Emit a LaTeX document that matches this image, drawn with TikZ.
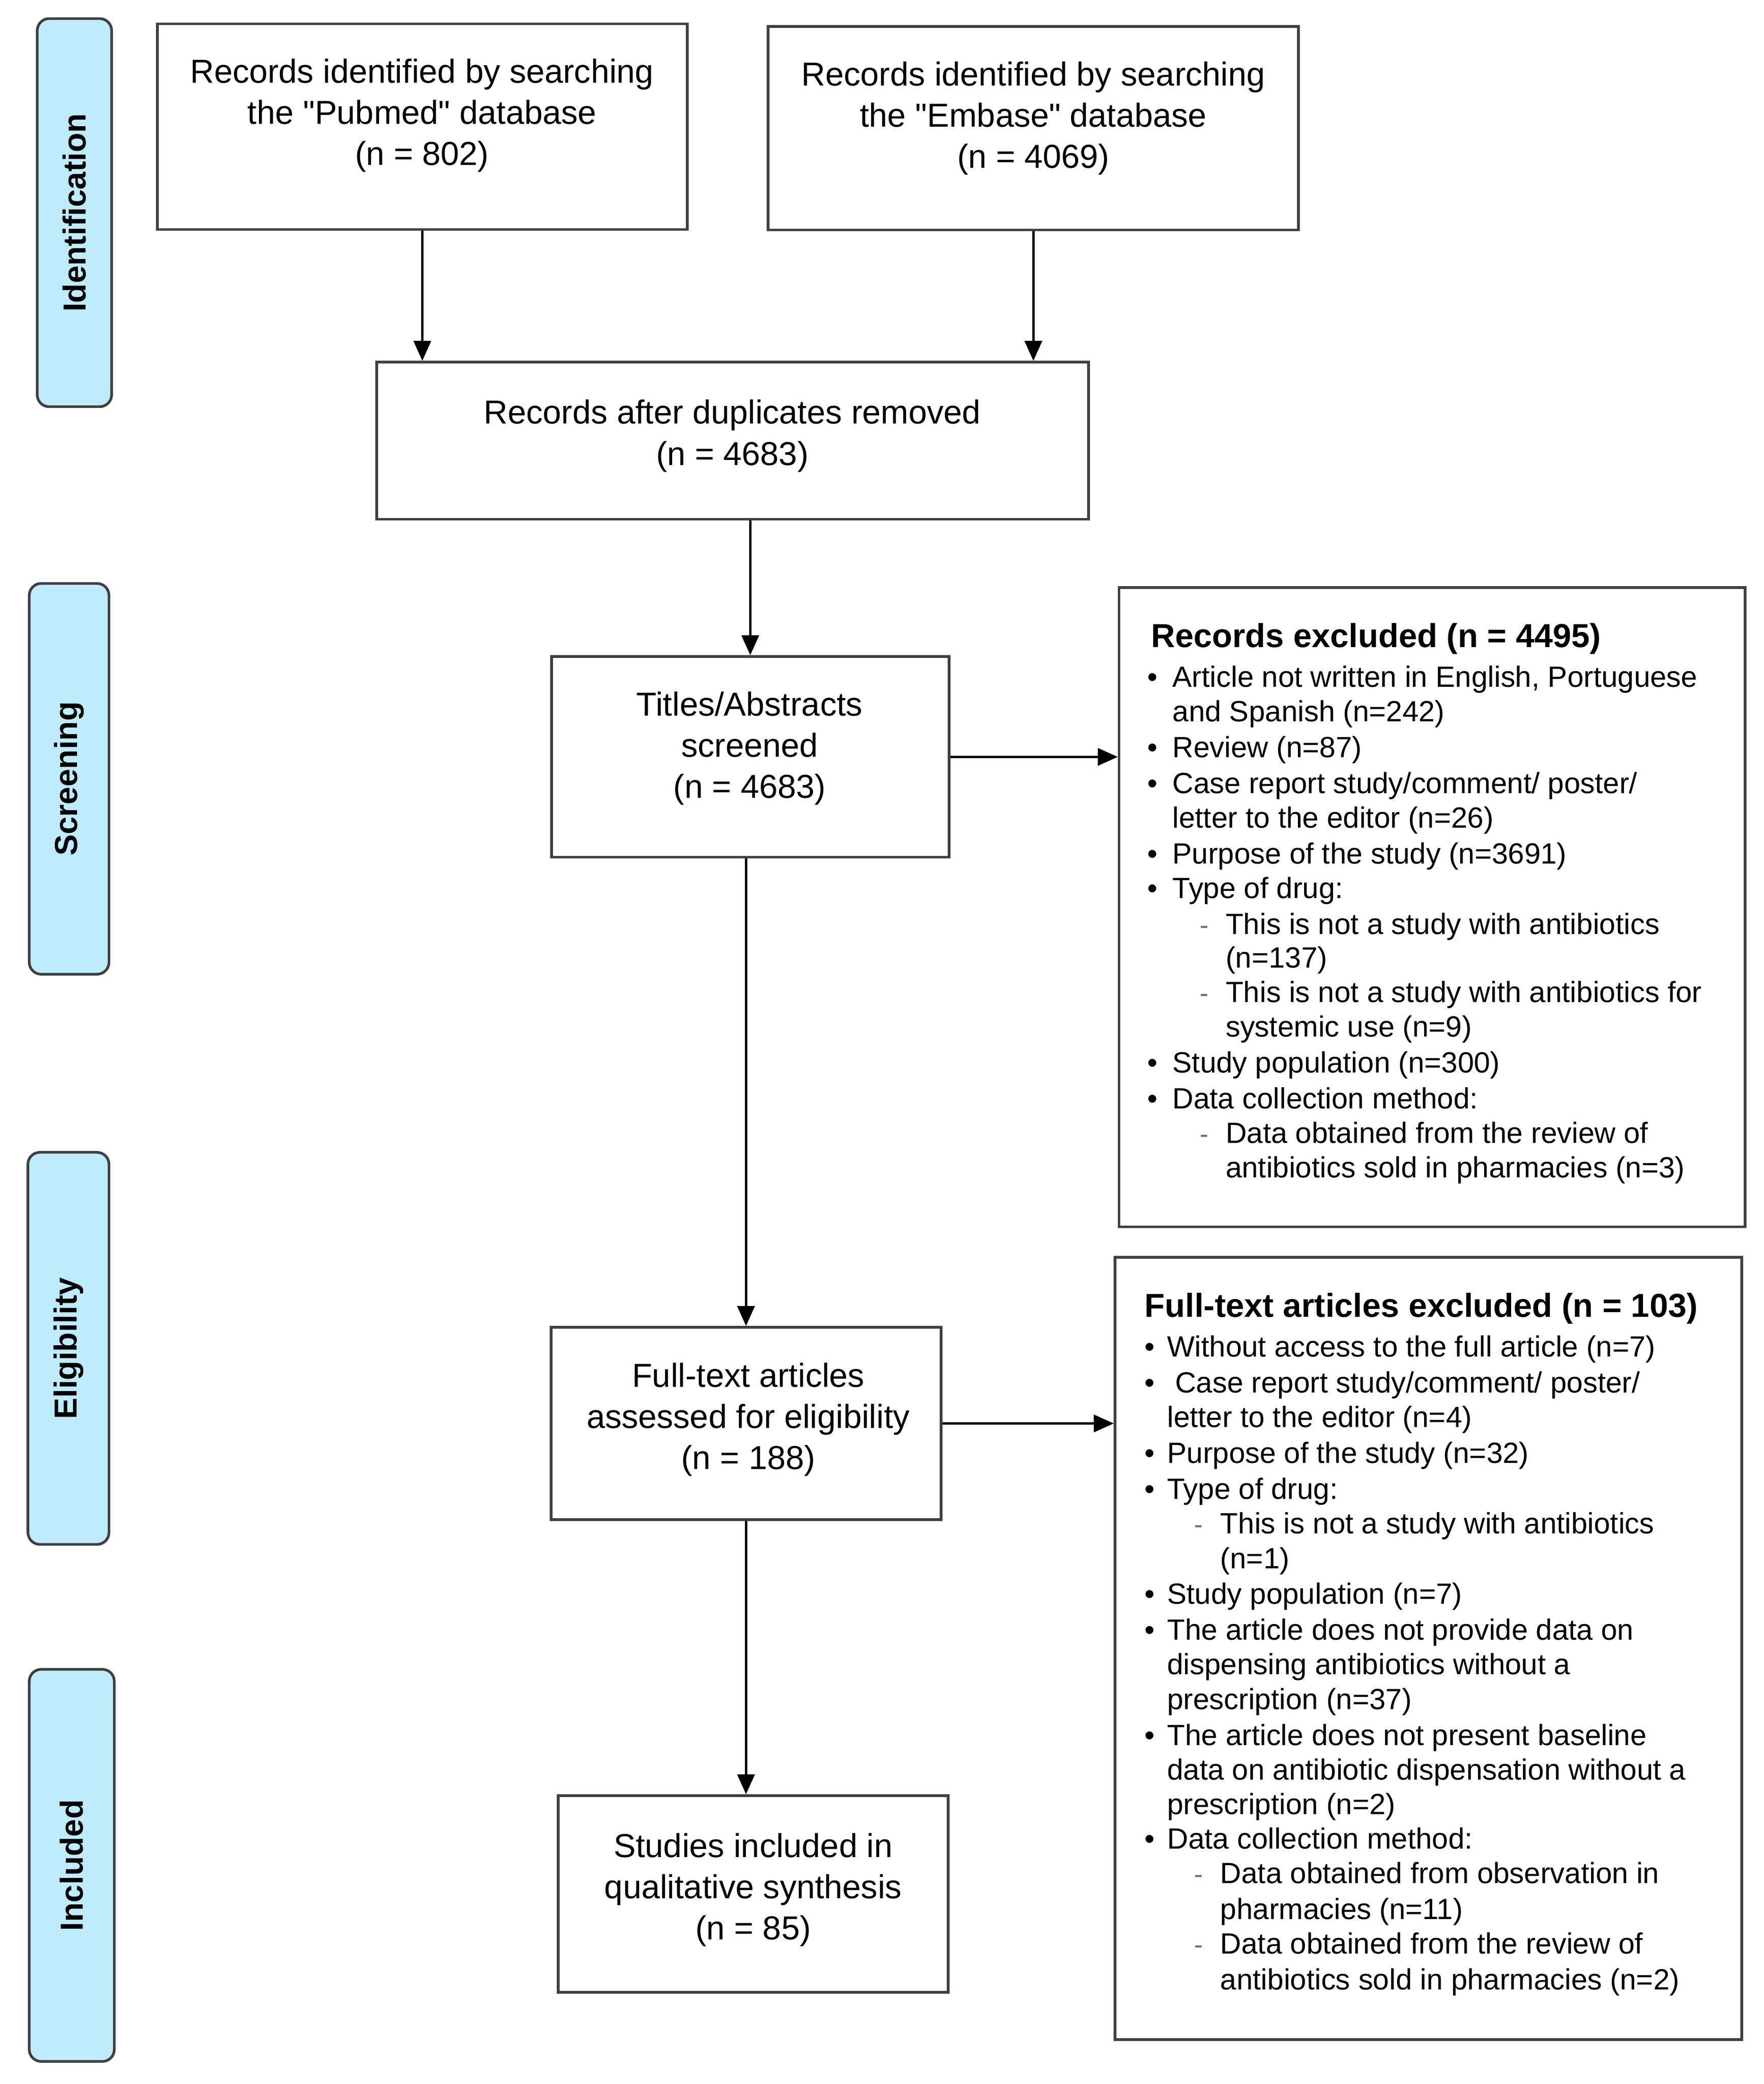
\documentclass[tikz,border=0pt]{standalone}
\usepackage{fontspec}
\setmainfont{Liberation Sans}
\usetikzlibrary{arrows.meta}
\definecolor{barblue}{RGB}{190,236,252}
\definecolor{edgegray}{RGB}{64,64,64}
\definecolor{dashgray}{RGB}{110,110,110}
\begin{document}
\begin{tikzpicture}[x=1pt,y=-1pt,
  box/.style={draw=edgegray, line width=2pt, fill=white, inner sep=0pt},
  phase/.style={draw=edgegray, line width=2pt, fill=barblue, rounded corners=9pt, inner sep=0pt},
  phasetext/.style={rotate=90, font=\bfseries\fontsize{24}{28}\selectfont, inner sep=0pt},
  maintext/.style={font=\fontsize{25}{31}\selectfont, align=center, inner sep=0pt},
  listtext/.style={font=\fontsize{22}{26}\selectfont, anchor=base west, inner sep=0pt},
  listtitle/.style={font=\bfseries\fontsize{25}{30}\selectfont, anchor=base west, inner sep=0pt},
  bul/.style={font=\fontsize{22}{26}\selectfont, anchor=base, inner sep=0pt},
  dsh/.style={font=\fontsize{20}{26}\selectfont, anchor=base, inner sep=0pt, text=dashgray},
  arr/.style={-{Triangle[length=15pt,width=13pt]}, line width=1.7pt}
]
\useasboundingbox (0,0) rectangle (1327,1568);

% phase bars
\node[phase, minimum width=56pt, minimum height=292pt] (idb) at (56,160) {};
\node[phasetext] (idt) at (idb.center) {Identification};
\node[phase, minimum width=60pt, minimum height=294pt] (scb) at (52,586) {};
\node[phasetext] (sct) at (scb.center) {Screening};
\node[phase, minimum width=61pt, minimum height=295pt] (elb) at (51.5,1014.5) {};
\node[phasetext] (elt) at (elb.center) {Eligibility};
\node[phase, minimum width=64pt, minimum height=295pt] (inb) at (54,1403.5) {};
\node[phasetext] (int) at (inb.center) {Included};

% boxes
\node[box, minimum width=398.5pt, minimum height=154.7pt] (pub) at (317.75,95.35) {};
\node[box, minimum width=399pt, minimum height=153pt] (emb) at (777.5,96.5) {};
\node[box, minimum width=535.5pt, minimum height=118.2pt] (dup) at (551.25,331.6) {};
\node[box, minimum width=299pt, minimum height=151pt] (tit) at (564.5,569.5) {};
\node[box, minimum width=471pt, minimum height=481pt] (rex) at (1077.5,682.5) {};
\node[box, minimum width=293.4pt, minimum height=144.7pt] (elig) at (561.3,1071) {};
\node[box, minimum width=471.5pt, minimum height=588.5pt] (fex) at (1074.75,1240.25) {};
\node[box, minimum width=293.4pt, minimum height=148pt] (incl) at (566.7,1425) {};

% box texts
\node[maintext] (pubT) at (317.5,87) {Records identified by searching\\the \textquotedbl Pubmed\textquotedbl\ database\\(n = 802)};
\node[maintext] (embT) at (777.5,89) {Records identified by searching\\the \textquotedbl Embase\textquotedbl\ database\\(n = 4069)};
\node[maintext] (dupT) at (551,328) {Records after duplicates removed\\(n = 4683)};
\node[maintext] (titT) at (564,563) {Titles/Abstracts\\screened\\(n = 4683)};
\node[maintext] (eligT) at (563,1068) {Full-text articles\\assessed for eligibility\\(n = 188)};
\node[maintext] (inclT) at (566.7,1422) {Studies included in\\qualitative synthesis\\(n = 85)};

% records excluded list
\node[listtitle] (rexT) at (866,487) {Records excluded (n = 4495)};
\foreach \yy/\xx/\tt in {
  509/882/{Article not written in English, Portuguese},
  535/882/{and Spanish (n=242)},
  562/882/{Review (n=87)},
  589/882/{Case report study/comment/ poster/},
  615/882/{letter to the editor (n=26)},
  642/882/{Purpose of the study (n=3691)},
  668/882/{Type of drug:},
  695/922/{This is not a study with antibiotics},
  720/922/{(n=137)},
  746/922/{This is not a study with antibiotics for},
  772/922/{systemic use (n=9)},
  799/882/{Study population (n=300)},
  826/882/{Data collection method:},
  852/922/{Data obtained from the review of},
  878/922/{antibiotics sold in pharmacies (n=3)}}
  \node[listtext] (rl\yy) at (\xx,\yy+8) {\tt};
\foreach \yy in {509,562,589,642,668,799,826}
  \node[bul] (rb\yy) at (867,\yy+8) {•};
\foreach \yy in {695,746,852}
  \node[dsh] (rd\yy) at (906,\yy+8) {-};

% full-text excluded list
\node[listtitle] (fexT) at (861,991) {Full-text articles excluded (n = 103)};
\foreach \yy/\xx/\tt in {
  1013/878/{Without access to the full article (n=7)},
  1040/884/{Case report study/comment/ poster/},
  1066/878/{letter to the editor (n=4)},
  1093/878/{Purpose of the study (n=32)},
  1120/878/{Type of drug:},
  1146/918/{This is not a study with antibiotics},
  1172/918/{(n=1)},
  1199/878/{Study population (n=7)},
  1226/878/{The article does not provide data on},
  1252/878/{dispensing antibiotics without a},
  1278/878/{prescription (n=37)},
  1305/878/{The article does not present baseline},
  1331/878/{data on antibiotic dispensation without a},
  1357/878/{prescription (n=2)},
  1383/878/{Data collection method:},
  1409/918/{Data obtained from observation in},
  1436/918/{pharmacies (n=11)},
  1462/918/{Data obtained from the review of},
  1489/918/{antibiotics sold in pharmacies (n=2)}}
  \node[listtext] (fl\yy) at (\xx,\yy+8) {\tt};
\foreach \yy in {1013,1040,1093,1120,1199,1226,1305,1383}
  \node[bul] (fb\yy) at (865,\yy+8) {•};
\foreach \yy in {1146,1409,1462}
  \node[dsh] (fd\yy) at (902,\yy+8) {-};

% arrows
\draw[arr] (pub.south) -- (pub.south |- dup.north);
\draw[arr] (emb.south) -- (emb.south |- dup.north);
\draw[arr] (dup.south -| tit.north) -- (tit.north);
\draw[arr] (tit.south -| elig.north) -- (elig.north);
\draw[arr] (elig.south) -- (elig.south |- incl.north);
\draw[arr] (tit.east) -- (tit.east -| rex.west);
\draw[arr] (elig.east) -- (elig.east -| fex.west);
\end{tikzpicture}
\end{document}
